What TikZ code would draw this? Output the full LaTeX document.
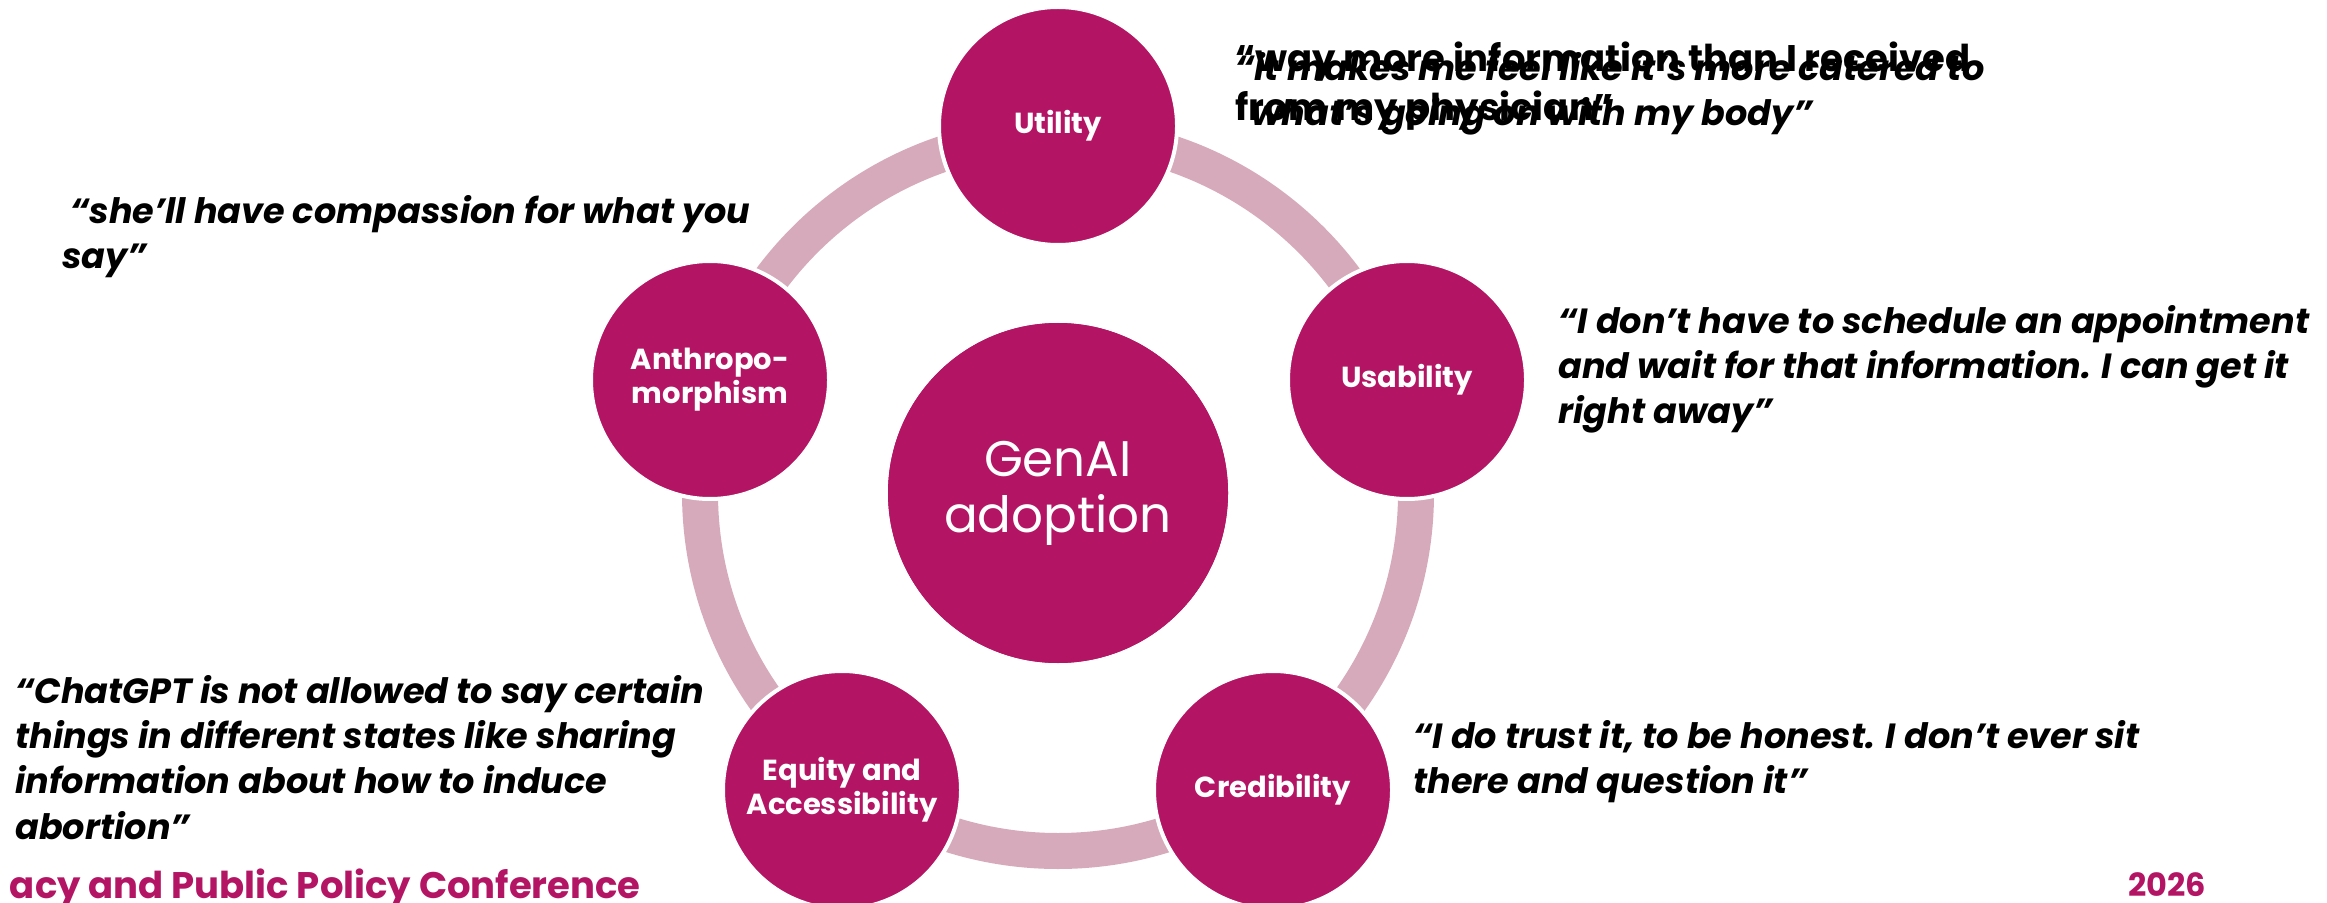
\documentclass[tikz,border=0pt]{standalone}
\usepackage{fontspec}
\setmainfont{Poppins}
\definecolor{mag}{HTML}{B31464}
\definecolor{ringc}{HTML}{D6AABA}
\begin{document}
\begin{tikzpicture}[x=0.5pt,y=-0.5pt,
  smallc/.style={circle, fill=mag, draw=white, line width=2pt, minimum size=119pt, inner sep=0pt,
     text=white, font=\fontsize{14.5}{17}\selectfont\bfseries, align=center},
  bigc/.style={circle, fill=mag, minimum size=170pt, inner sep=0pt, text=white,
     font=\fontsize{25}{28}\selectfont, align=center},
  quote/.style={anchor=north west, inner sep=0pt, align=left,
     font=\fontsize{17.5}{22.6}\selectfont\bfseries\itshape},
  foot/.style={inner sep=0pt, text=mag, font=\fontsize{18.5}{21}\selectfont\bfseries}]
\useasboundingbox (0,0) rectangle (2327,903);
\node[bigc] (c) at (1058,493) {GenAI\\adoption};
\draw[ringc, line width=18pt] (c.center) circle[radius=179pt];
\node[bigc] at (c.center) {GenAI\\adoption};
\node[smallc] (u) at (1058,126) {Utility};
\node[smallc] (us) at (1407,380) {Usability};
\node[smallc] (cr) at (1273,790) {Credibility};
\node[smallc] (eq) at (842,790) {Equity and\\Accessibility};
\node[smallc] (an) at (710,380) {Anthropo-\\morphism};
\node[quote] (q1) at (62,195) {\ “she’ll have compassion for what you\\say”};
\node[quote, font=\fontsize{18.5}{24.5}\selectfont\bfseries] (q2) at (1235,41) {“way more information than I received\\from my physician”};
\node[quote] (q3) at (1235,52) {“it makes me feel like it’s more catered to\\\ \ what’s going on with my body”};
\node[quote] (q4) at (1558,305) {“I don’t have to schedule an appointment\\and wait for that information. I can get it\\right away”};
\node[quote] (q5) at (1413,720) {“I do trust it, to be honest. I don’t ever sit\\there and question it”};
\node[quote] (q6) at (15,675) {“ChatGPT is not allowed to say certain\\things in different states like sharing\\information about how to induce\\abortion”};
\node[foot, anchor=base east] (f1) at (641,898) {acy and Public Policy Conference};
\node[foot, anchor=base west, font=\fontsize{16}{19}\selectfont\bfseries] (f2) at (2128,896) {2026};
\end{tikzpicture}
\end{document}
